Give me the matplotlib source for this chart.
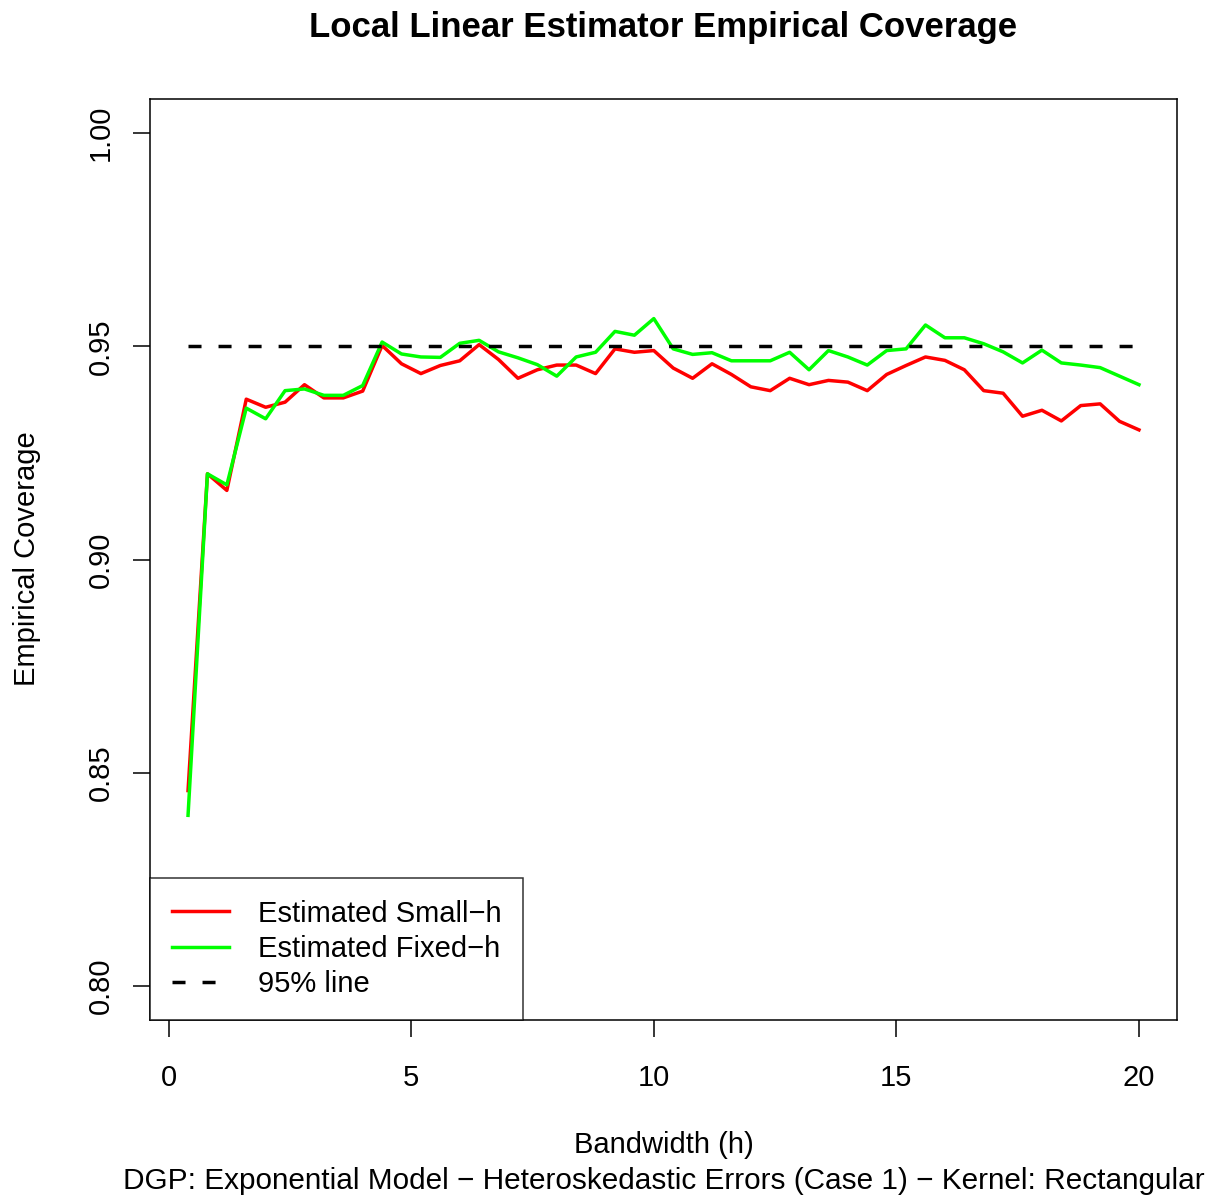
import matplotlib
matplotlib.use("Agg")
import matplotlib.pyplot as plt
import numpy as np

# bandwidth grid 0.4, 0.8, ..., 20
h = [0.4, 0.8, 1.2, 1.6, 2.0, 2.4, 2.8, 3.2, 3.6, 4.0,
     4.4, 4.8, 5.2, 5.6, 6.0, 6.4, 6.8, 7.2, 7.6, 8.0,
     8.4, 8.8, 9.2, 9.6, 10.0, 10.4, 10.8, 11.2, 11.6, 12.0,
     12.4, 12.8, 13.2, 13.6, 14.0, 14.4, 14.8, 15.2, 15.6, 16.0,
     16.4, 16.8, 17.2, 17.6, 18.0, 18.4, 18.8, 19.2, 19.6, 20.0]

small_h = [0.8458, 0.9201, 0.9162, 0.9376, 0.9357, 0.9369, 0.9410, 0.9379, 0.9379, 0.9395,
           0.9502, 0.9459, 0.9436, 0.9455, 0.9466, 0.9504, 0.9469, 0.9425, 0.9445, 0.9456,
           0.9456, 0.9436, 0.9494, 0.9486, 0.9490, 0.9449, 0.9425, 0.9459, 0.9434, 0.9405,
           0.9396, 0.9425, 0.9410, 0.9420, 0.9416, 0.9396, 0.9434, 0.9455, 0.9475, 0.9467,
           0.9445, 0.9396, 0.9390, 0.9336, 0.9350, 0.9325, 0.9361, 0.9365, 0.9324, 0.9304]

fixed_h = [0.8400, 0.9201, 0.9175, 0.9355, 0.9330, 0.9396, 0.9400, 0.9385, 0.9385, 0.9408,
           0.9510, 0.9482, 0.9475, 0.9474, 0.9507, 0.9514, 0.9487, 0.9473, 0.9457, 0.9430,
           0.9475, 0.9486, 0.9535, 0.9526, 0.9565, 0.9494, 0.9481, 0.9485, 0.9466, 0.9466,
           0.9466, 0.9486, 0.9445, 0.9490, 0.9475, 0.9456, 0.9490, 0.9494, 0.9550, 0.9520,
           0.9520, 0.9506, 0.9487, 0.9461, 0.9491, 0.9461, 0.9456, 0.9450, 0.9430, 0.9410]

target = 0.95
x_ticks = [0, 5, 10, 15, 20]
y_ticks = [0.80, 0.85, 0.90, 0.95, 1.00]

plt.rcParams['font.family'] = ['Liberation Sans', 'DejaVu Sans']

W, H = 1209, 1198
fig = plt.figure(figsize=(W / 100, H / 100), dpi=100)
ax = fig.add_axes([150 / W, 1 - 1020 / H, (1177 - 150) / W, (1020 - 99) / H])

fs = 21
lw = 2.5

ax.plot(h, small_h, color='#ff0000', lw=lw, label='Estimated Small\u2212h')
ax.plot(h, fixed_h, color='#00ff00', lw=lw, label='Estimated Fixed\u2212h')
ax.plot([h[0], h[-1]], [target, target], color='black', lw=lw,
        dashes=(3.75, 4.9), label='95% line')

ax.set_xlim(-0.384, 20.784)
ax.set_ylim(0.792, 1.008)
ax.set_xticks(x_ticks)
ax.set_xticklabels([str(t) for t in x_ticks])
ax.set_yticks(y_ticks)
ax.set_yticklabels(['%.2f' % t for t in y_ticks], rotation=90, va='center')
ax.tick_params(direction='out', length=12.5, width=1.1, labelsize=fs, colors='black')
ax.tick_params(axis='x', pad=19)
ax.tick_params(axis='y', pad=13)
for s in ax.spines.values():
    s.set_linewidth(1.1)

leg = ax.legend(loc='lower left', fontsize=fs, frameon=True, fancybox=False,
                borderpad=0.75, handlelength=1.95, handletextpad=1.0,
                labelspacing=0.25, borderaxespad=0)
leg.get_frame().set_edgecolor('black')
leg.get_frame().set_linewidth(1.1)

fig.text(663.5 / W, 1 - 28 / H, 'Local Linear Estimator Empirical Coverage',
         ha='center', va='center', fontsize=25, fontweight='bold')
fig.text(663.5 / W, 1 - 1145 / H, 'Bandwidth (h)', ha='center', va='center', fontsize=fs)
fig.text(663.5 / W, 1 - 1181 / H,
         'DGP: Exponential Model \u2212 Heteroskedastic Errors (Case 1) \u2212 Kernel: Rectangular',
         ha='center', va='center', fontsize=21.4)
fig.text(27 / W, 1 - 559 / H, 'Empirical Coverage', ha='center', va='center',
         rotation=90, fontsize=fs)

fig.savefig('out.png', dpi=100)
